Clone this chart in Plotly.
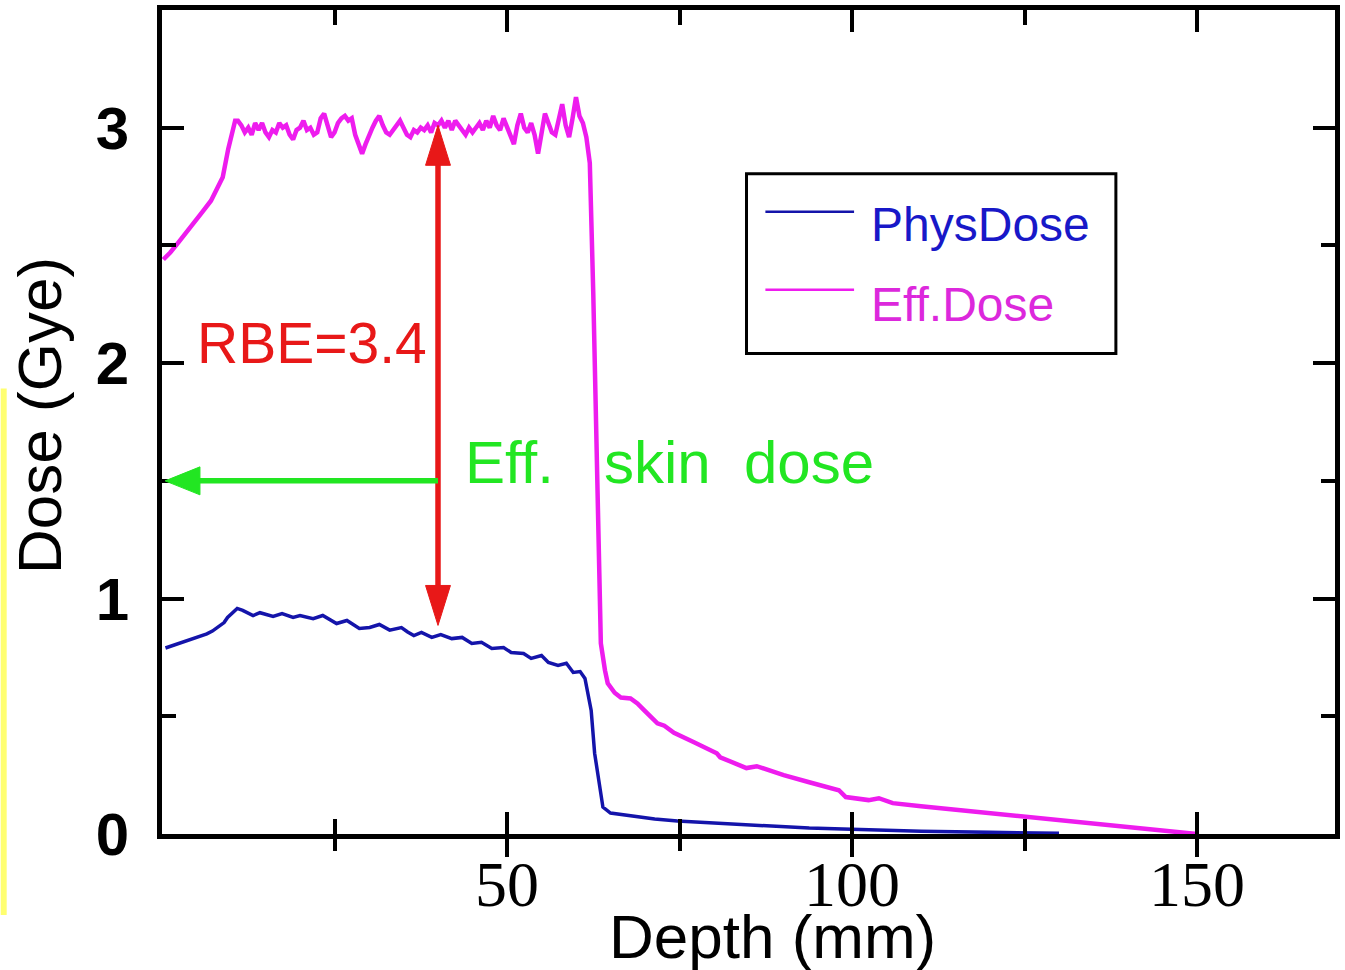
import plotly.graph_objects as go

# ---------------------------------------------------------------- data
series_names = ["PhysDose", "Eff.Dose"]

# physical dose vs depth (mm)
depth_phys = [
    0.5, 1.5, 2.5, 3.5, 4.6, 5.5, 6.5, 7.3, 8.1, 9.0,
    9.5, 10.2, 10.9, 11.7, 12.4, 13.2, 14.2, 15.2, 16.1, 17.4,
    18.2, 19.0, 20.0, 21.0, 21.9, 23.3, 24.3, 25.3, 26.8, 27.7,
    28.6, 30.1, 31.5, 33.0, 34.7, 35.6, 36.5, 37.6, 39.1, 40.4,
    42.0, 43.5, 44.9, 46.3, 47.8, 49.5, 50.6, 52.4, 53.5, 55.0,
    56.0, 57.4, 58.6, 59.6, 60.6, 61.3, 61.7, 62.2, 62.7, 63.5,
    63.9, 65.0, 67.9, 71.4, 74.7, 79.4, 84.3, 89.1, 93.8, 98.7,
    103.5, 110.0, 120.0, 130.0,
]
dose_phys = [
    0.790, 0.800, 0.810, 0.818, 0.830, 0.838, 0.850, 0.862, 0.877, 0.898,
    0.920, 0.940, 0.958, 0.950, 0.940, 0.928, 0.940, 0.930, 0.924, 0.936,
    0.926, 0.920, 0.928, 0.920, 0.915, 0.928, 0.910, 0.894, 0.907, 0.890,
    0.873, 0.877, 0.890, 0.866, 0.877, 0.858, 0.843, 0.856, 0.835, 0.847,
    0.830, 0.835, 0.809, 0.814, 0.788, 0.792, 0.771, 0.767, 0.746, 0.758,
    0.729, 0.716, 0.725, 0.686, 0.690, 0.661, 0.600, 0.525, 0.343, 0.174,
    0.114, 0.089, 0.076, 0.064, 0.055, 0.047, 0.038, 0.030, 0.025, 0.021,
    0.017, 0.012, 0.007, 0.003,
]

# biologically effective dose vs depth (mm)
depth_eff = [
    0.2, 1.2, 2.3, 3.4, 4.6, 5.8, 7.1, 8.0, 8.8, 9.6, 10.1, 10.6,
    11.0, 11.5, 12.0, 12.5, 13.0, 13.5, 14.0, 14.5, 15.0, 15.5,
    16.0, 16.5, 17.0, 17.5, 18.0, 18.5, 19.0, 19.5, 20.0, 20.5,
    21.0, 21.5, 22.0, 22.5, 23.0, 23.5, 24.0, 24.5, 25.0, 25.5,
    26.0, 26.5, 27.0, 27.5, 28.0, 28.5, 29.0, 29.5, 30.0, 30.5,
    31.0, 31.5, 32.0, 32.5, 33.0, 33.5, 34.0, 34.5, 35.0, 35.5,
    36.0, 36.5, 37.0, 37.5, 38.0, 38.5, 39.0, 39.5, 40.0, 40.5,
    41.0, 41.5, 42.0, 42.5, 43.0, 43.5, 44.0, 44.5, 45.0, 45.5,
    46.0, 46.5, 47.0, 47.5, 48.0, 48.5, 49.0, 49.5, 50.0, 50.5,
    51.0, 51.5, 52.0, 52.5, 53.0, 53.5, 54.0, 54.5, 55.0, 55.5,
    56.0, 56.5, 57.0, 57.5, 58.0, 58.5, 59.0, 59.5, 60.0, 60.5,
    61.0, 61.5,
    62.0, 62.5, 63.0, 63.4, 63.6, 64.2, 64.6, 65.6, 66.5, 67.9,
    68.9, 69.9, 70.6, 71.8, 72.8, 74.2, 77.1, 80.4, 80.9, 84.7,
    86.2, 90.1, 93.8, 98.1, 99.1, 102.4, 103.9, 105.9, 110.0, 115.0,
    120.0, 125.0, 130.0, 135.0, 140.0, 145.0, 150.0,
]
dose_eff = [
    2.44, 2.47, 2.51, 2.55, 2.59, 2.64, 2.69, 2.74, 2.79, 2.91, 2.97, 3.03,
    3.03, 3.01, 2.98, 3.00, 2.97, 3.02, 2.99, 3.02, 2.98, 2.96,
    2.99, 2.98, 3.02, 3.00, 3.01, 2.97, 2.95, 2.99, 3.00, 3.03,
    2.99, 3.00, 2.97, 2.98, 3.04, 3.06, 3.01, 2.96, 2.98, 3.02,
    3.04, 3.05, 3.03, 3.04, 2.97, 2.93, 2.89, 2.93, 2.97, 3.00,
    3.03, 3.05, 3.01, 2.98, 2.97, 2.99, 3.01, 3.03, 3.00, 2.97,
    2.96, 2.99, 2.98, 3.00, 2.99, 3.01, 2.98, 3.02, 3.01, 3.03,
    3.00, 3.03, 2.99, 3.03, 3.01, 2.99, 2.97, 3.00, 2.98, 3.00,
    3.02, 2.99, 3.03, 3.00, 3.05, 3.01, 2.99, 3.04, 3.00, 2.97,
    2.93, 3.01, 3.06, 3.00, 2.98, 3.02, 2.97, 2.89, 2.99, 3.06,
    3.02, 2.98, 2.97, 3.04, 3.10, 3.01, 2.96, 3.04, 3.13, 3.05,
    3.02, 2.96,
    2.85, 2.30, 1.60, 1.15, 0.81, 0.695, 0.64, 0.60, 0.58, 0.576,
    0.555, 0.525, 0.504, 0.47, 0.46, 0.43, 0.39, 0.343, 0.326, 0.28,
    0.288, 0.25, 0.22, 0.186, 0.157, 0.144, 0.152, 0.131, 0.118, 0.103,
    0.088, 0.072, 0.058, 0.045, 0.030, 0.015, 0.0,
]
assert len(depth_phys) == len(dose_phys)
assert len(depth_eff) == len(dose_eff)

x_tick_vals = [50, 100, 150]
x_tick_text = ["50", "100", "150"]
x_minor_vals = [25, 75, 125]
y_tick_vals = [0, 1, 2, 3]
y_tick_text = ["0", "1", "2", "3"]
y_minor_vals = [0.5, 1.5, 2.5]

x_title = "Depth (mm)"
y_title = "Dose (Gye)"
rbe_label = "RBE=3.4"
skin_label = "Eff.\u00a0\u00a0\u00a0skin\u00a0\u00a0dose"

# annotation arrows (data units)
rbe_x = 40.0
rbe_top, rbe_bottom = 3.01, 0.886
skin_y = 1.5
skin_tip_x = 0.45

X_RANGE = [0, 170]
Y_RANGE = [0, 3.5]

BLUE = "#1414aa"
MAGENTA = "#ee1cee"
RED = "#e81818"
GREEN = "#22e622"

# ---------------------------------------------------------------- figure
fig = go.Figure()
fig.add_trace(go.Scatter(x=depth_phys, y=dose_phys, mode="lines", name=series_names[0],
                         line=dict(color=BLUE, width=3.5), showlegend=False))
fig.add_trace(go.Scatter(x=depth_eff, y=dose_eff, mode="lines", name=series_names[1],
                         line=dict(color=MAGENTA, width=4.5), showlegend=False))
# empty trace hosting the overlay axis that draws the outer half of bottom ticks
fig.add_trace(go.Scatter(x=[], y=[], xaxis="x2", yaxis="y", showlegend=False,
                         hoverinfo="skip"))

axis_common = dict(showgrid=False, zeroline=False, tickcolor="black", tickwidth=4)

fig.update_layout(
    width=1345, height=970,
    margin=dict(l=162, r=5, t=9, b=136),
    paper_bgcolor="white", plot_bgcolor="white",
    xaxis=dict(range=X_RANGE, tickmode="array", tickvals=x_tick_vals, ticktext=x_tick_text,
               ticks="inside", ticklen=22, showline=True, linewidth=5, linecolor="black",
               mirror="ticks", ticklabelstandoff=-10,
               tickfont=dict(family="Liberation Serif", size=64, color="black"),
               minor=dict(tickmode="array", tickvals=x_minor_vals, ticks="inside", ticklen=15,
                          tickwidth=4, tickcolor="black"),
               **axis_common),
    xaxis2=dict(range=X_RANGE, overlaying="x", anchor="y", side="bottom",
                tickmode="array", tickvals=x_tick_vals, ticks="outside", ticklen=22,
                showticklabels=False, showline=False,
                minor=dict(tickmode="array", tickvals=x_minor_vals, ticks="outside", ticklen=16,
                           tickwidth=4, tickcolor="black"),
                **axis_common),
    yaxis=dict(range=Y_RANGE, tickmode="array", tickvals=y_tick_vals, ticktext=y_tick_text,
               ticks="inside", ticklen=22, showline=True, linewidth=5, linecolor="black",
               mirror="ticks", ticklabelstandoff=16,
               tickfont=dict(family="Liberation Sans", size=60, color="black", weight="bold"),
               minor=dict(tickmode="array", tickvals=y_minor_vals, ticks="inside", ticklen=14,
                          tickwidth=4, tickcolor="black"),
               **axis_common),
)

# axis titles
fig.add_annotation(text=x_title, xref="paper", yref="paper", x=0.5204, y=-0.1248,
                   xanchor="center", yanchor="middle", showarrow=False,
                   font=dict(family="Liberation Sans", size=62, color="black"))
fig.add_annotation(text=y_title, xref="paper", yref="paper", x=-0.1045, y=0.5079,
                   xanchor="center", yanchor="middle", textangle=-90, showarrow=False,
                   font=dict(family="Liberation Sans", size=62, color="black"))

# thin yellow strip along the left edge
fig.add_shape(type="rect", xref="paper", yref="paper", x0=-0.1375, x1=-0.1324,
              y0=-0.0982, y1=0.5406, fillcolor="#ffff70", line=dict(width=0), layer="below")

# legend box with line samples
fig.add_shape(type="rect", xref="paper", yref="paper", x0=0.4983, x1=0.8132,
              y0=0.583, y1=0.8012, line=dict(color="black", width=3), fillcolor="white")
legend_rows = [(0.7552, 0.7394, BLUE, "#1818c8"), (0.6606, 0.6424, MAGENTA, "#dc28dc")]
for name, (ly, ty, lc, tc) in zip(series_names, legend_rows):
    fig.add_shape(type="line", xref="paper", yref="paper", x0=0.5144, x1=0.59, y0=ly, y1=ly,
                  line=dict(color=lc, width=2.5))
    fig.add_annotation(text=name, xref="paper", yref="paper", x=0.6027, y=ty,
                       xanchor="left", yanchor="middle", showarrow=False,
                       font=dict(family="Liberation Sans", size=48, color=tc))

# red double-headed arrow (RBE)
px_per_mm = 1178 / (X_RANGE[1] - X_RANGE[0])
px_per_gy = 825 / (Y_RANGE[1] - Y_RANGE[0])
head_len_y = 40 / px_per_gy
head_half_x = 12.5 / px_per_mm
fig.add_shape(type="line", x0=rbe_x, x1=rbe_x, y0=rbe_top - head_len_y + 0.02,
              y1=rbe_bottom + head_len_y - 0.02, line=dict(color=RED, width=5.5))
fig.add_shape(type="path", fillcolor=RED, line=dict(color=RED, width=1),
              path=f"M {rbe_x - head_half_x},{rbe_top - head_len_y} L {rbe_x + head_half_x},"
                   f"{rbe_top - head_len_y} L {rbe_x},{rbe_top} Z")
fig.add_shape(type="path", fillcolor=RED, line=dict(color=RED, width=1),
              path=f"M {rbe_x - head_half_x},{rbe_bottom + head_len_y} L {rbe_x + head_half_x},"
                   f"{rbe_bottom + head_len_y} L {rbe_x},{rbe_bottom} Z")
fig.add_annotation(text=rbe_label, x=21.8, y=2.087, xanchor="center", yanchor="middle",
                   showarrow=False, font=dict(family="Liberation Sans", size=57, color=RED))

# green arrow pointing to the effective skin dose
g_head_len = 35 / px_per_mm
g_head_half = 14 / px_per_gy
fig.add_shape(type="line", x0=skin_tip_x + g_head_len - 0.3, x1=rbe_x, y0=skin_y, y1=skin_y,
              line=dict(color=GREEN, width=5.5))
fig.add_shape(type="path", fillcolor=GREEN, line=dict(color=GREEN, width=1),
              path=f"M {skin_tip_x + g_head_len},{skin_y - g_head_half} L {skin_tip_x + g_head_len},"
                   f"{skin_y + g_head_half} L {skin_tip_x},{skin_y} Z")
fig.add_annotation(text=skin_label, x=73.6, y=1.578, xanchor="center", yanchor="middle",
                   showarrow=False, font=dict(family="Liberation Sans", size=60, color=GREEN))

fig.write_html("out.html")
